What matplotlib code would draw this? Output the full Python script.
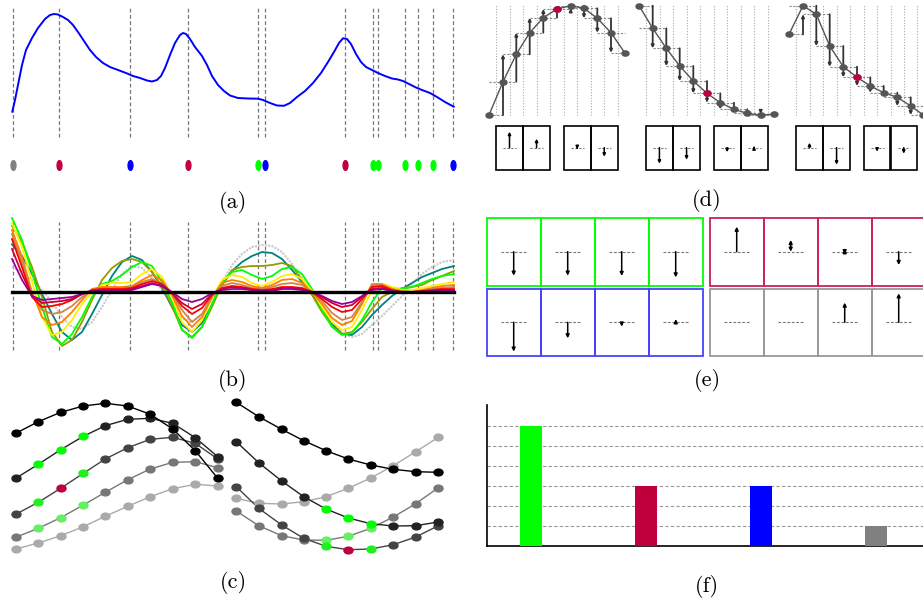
import matplotlib
matplotlib.use("Agg")
import matplotlib.pyplot as plt
from matplotlib.path import Path
from matplotlib.transforms import Affine2D
from matplotlib.patches import Rectangle

W, H = 923, 604

GREEN = "#00ff00"
CRIMSON = "#c0003c"
BLUE = "#0000ff"
GRAY = "#808080"

# ---------------- (a) signal + events ----------------
a_t = [12.3, 15, 18, 22, 26, 32, 38, 45, 50, 54, 58, 63, 68, 73, 78, 84, 90, 96,
       103, 110, 118, 126, 133, 140, 147, 152, 157, 161, 165, 170, 175, 180, 183,
       186, 190, 195, 202, 207, 212, 218, 224, 230, 238, 248, 258, 263, 270, 277,
       284, 290, 297, 305, 313, 321, 328, 334, 339, 343, 347, 351, 356, 361, 366,
       372, 378, 385, 392, 398, 403, 409, 416, 422, 430, 437, 445, 453.7]
a_s = [28.3, 40, 55, 75, 90, 102, 112, 121, 125, 126, 125.5, 123, 120, 115, 108,
       99, 90, 83, 77, 73, 70, 67, 64, 62, 59.5, 58.5, 60, 64, 72, 85, 97, 105,
       107, 106, 101, 93, 84, 75, 64, 55, 49, 44.5, 42, 41.5, 41.3, 40, 37, 34.5,
       34.2, 37, 43, 49, 57, 67, 78, 88, 97, 101.7, 101, 96, 86, 78, 73, 70, 67,
       64, 61.5, 60.5, 59, 56, 52.5, 50, 47, 43, 38, 33.3]

event_t = [12.8, 59, 129.8, 187.5, 258.2, 265, 344.8, 373.3, 377.7, 404.5,
           417.5, 433, 453]
event_colors = [GRAY, CRIMSON, BLUE, CRIMSON, GREEN, BLUE, CRIMSON, GREEN,
                GREEN, GREEN, GREEN, GREEN, BLUE]

# ---------------- (b) multi-scale responses ----------------
b_x = [12, 22, 32, 42, 52, 62, 72, 82, 92, 102, 112, 122, 132, 142, 152, 162,
       172, 182, 192, 202, 212, 222, 232, 242, 252, 262, 272, 282, 292, 302,
       312, 322, 332, 342, 352, 362, 372, 382, 392, 402, 412, 422, 432, 442, 454]
b_gray = [25, 20, 12, 2, -10, -25, -35, -37, -30, -15, 2, 18, 26, 24, 14, 2, -12,
          -26, -30, -22, -8, 10, 27, 38, 45, 47, 46, 40, 28, 14, 0, -15, -30, -41,
          -45, -42, -33, -24, -14, -4, 8, 18, 25, 30, 32]
b_teal = [47.7, 36, 18, -2, -22, -40, -48, -40, -22, -3, 16, 30, 36, 32, 20, 4,
          -15, -33, -40, -31, -13, 7, 21, 30, 36, 40, 39, 33, 22, 10, -2, -17, -32,
          -42, -43, -35, -23, -13, -4, 3, 9, 15, 19, 23, 26]
b_olive = [66, 50, 25, -5, -40, -54, -48, -30, -8, 12, 24, 31, 33, 30, 20, 6, -14,
           -38, -45, -35, -15, 8, 22, 25, 26, 26, 27, 29, 26, 12, -3, -20, -34, -42,
           -40, -30, -17, -5, 0, 4, 5, 7, 12, 16, 21]
b_lime = [74, 52, 20, -15, -45, -52, -42, -25, -5, 8, 11, 17, 25, 30, 26, 10, -10,
          -38, -46, -35, -12, 10, 20, 22, 17, 13, 16, 23, 25, 18, 3, -18, -35, -43,
          -41, -28, -10, 4, 4, 3, 5, 9, 13, 16, 18]
b_yellow = [69, 45, 10, -25, -43, -40, -28, -12, 0, 7, 9, 9, 10, 18, 23, 15, -5,
            -30, -40, -28, -6, 12, 17, 15, 9, 6, 10, 16, 18, 13, 1, -15, -30, -38,
            -35, -18, 2, 8, 5, 2, 2, 4, 6, 8, 10]
b_orange = [62, 35, 0, -25, -33, -30, -20, -8, 3, 5, 5, 5, 6, 12, 17, 12, -3, -24,
            -35, -25, -5, 9, 12, 10, 6, 4, 7, 12, 13, 9, 0, -12, -26, -33, -29, -12,
            8, 8, 3, 1, 0, 2, 4, 6, 7]
b_peru = [58, 30, -2, -18, -22, -20, -14, -5, 2, 4, 4, 4, 5, 10, 13, 9, -2, -18,
          -30, -22, -4, 6, 9, 7, 4, 3, 5, 8, 9, 7, 0, -9, -21, -28, -25, -10, 7, 7,
          2, 0, 0, 1, 3, 4, 5]
b_red = [53, 25, -5, -15, -14, -12, -8, -2, 2, 3, 3, 3, 4, 8, 11, 8, -1, -14, -22,
         -16, -3, 4, 6, 5, 3, 2, 3, 5, 5, 4, 0, -7, -15, -20, -18, -7, 5, 6, 2, 0,
         0, 1, 2, 3, 3]
b_crimson = [43, 18, -4, -11, -10, -9, -7, -2, 1, 2, 2, 2, 3, 6, 9, 6, -1, -11,
             -17, -12, -2, 3, 5, 4, 2, 1, 2, 4, 4, 3, 0, -5, -11, -15, -13, -5, 3,
             4, 1, 0, 0, 1, 1, 2, 2]
b_purple = [33, 12, -4, -8, -7, -6, -5, -2, 1, 1, 1, 1, 2, 5, 8, 6, 0, -7, -10, -7,
            -1, 2, 3, 3, 2, 1, 1, 3, 3, 2, 0, -4, -9, -12, -10, -4, 2, 3, 1, 0, 0,
            0, 1, 1, 1]

# ---------------- (c) trajectories ----------------
c_left_x = [15.7, 38.3, 60.7, 83.3, 105.3, 127.7, 150.3, 172.7, 195.3, 217.7]
c_left = [
    [126.7, 138.3, 147.7, 154, 156.7, 154, 145.7, 131, 109.3, 81.7],
    [81.7, 95.7, 110.3, 123.7, 134.3, 140.7, 141.7, 136.7, 122.3, 103.3],
    [45.7, 57.7, 71.7, 86.7, 101, 112.3, 120.7, 122.7, 116.7, 101],
    [22.7, 31.7, 42.3, 55, 67.7, 80.3, 91, 97.7, 98.3, 92.3],
    [11, 17, 24.3, 33.3, 43.7, 53.7, 63.3, 71.3, 75.7, 74],
]
c_right_x = [236.3, 258.7, 281.7, 303.7, 326, 348.3, 370.7, 393.3, 415.7, 438.3]
c_right = [
    [157.7, 143.3, 130.7, 119.3, 109.3, 101, 95, 90.7, 88.3, 87.7],
    [118.3, 97.3, 79, 63.3, 51, 42, 36.3, 34, 34.3, 38],
    [73.3, 51.7, 35, 21.7, 13.7, 10.3, 11, 15.3, 23, 34.3],
    [49, 34.3, 24.3, 20, 19.7, 23.7, 31.7, 43, 56.3, 72.3],
    [61.7, 56.7, 56, 58.3, 63.3, 71.7, 82, 94.3, 108.3, 122.7],
]
c_line_colors = ["#000000", "#222222", "#444444", "#777777", "#aaaaaa"]
LG = "#66ee66"
c_left_dots = [
    ["#000000"] * 10,
    ["#222222", GREEN, GREEN, GREEN] + ["#222222"] * 6,
    ["#444444", "#22ee22", CRIMSON, "#22ee22"] + ["#444444"] * 6,
    ["#777777", LG, LG, LG] + ["#777777"] * 6,
    ["#aaaaaa"] * 10,
]
c_right_dots = [
    ["#000000"] * 10,
    ["#222222"] * 4 + [GREEN, GREEN, GREEN] + ["#222222"] * 3,
    ["#444444"] * 4 + ["#22ee22", CRIMSON, "#22ee22"] + ["#444444"] * 3,
    ["#777777"] * 4 + [LG, LG, LG] + ["#777777"] * 3,
    ["#aaaaaa"] * 10,
]

# ---------------- (d) sampled curves + differences ----------------
d_x = [
    [489, 503, 516.3, 529.7, 543.3, 557, 570.7, 584, 597.3, 611, 624.7],
    [639, 652.7, 666.3, 679.7, 693.3, 707, 720.3, 734, 747.3, 760.7, 774.3],
    [789, 803, 816.3, 829.7, 843.3, 857, 870.3, 883.7, 897.3, 910.7, 923.3],
]
d_h = [
    [5, 38.3, 65.7, 87.3, 102.3, 111, 114.3, 111.7, 101.7, 87.3, 67.3],
    [114.3, 91.7, 71.7, 54, 39, 26.7, 17.3, 10.7, 6.7, 4.7, 6],
    [85.7, 114.3, 105.7, 74, 53.3, 42.7, 34, 27.3, 22.7, 14, 5],
]
d_red_idx = 5
d_box_arrows = [[16, 9, -1.5, -9], [-16, -12, -4.5, 1.5], [5, -17, -4, -6]]

# ---------------- (e) arrow boxes ----------------
e_green = [-24, -24, -24.3, -25.7]
e_red_start = [0, 0, -2.5, 0]
e_red_end = [25, 11.7, 2.5, -13.3]
e_red_both = [False, True, True, False]
e_blue = [-29.3, -16, -4.3, 3]
e_gray = [0, 0, 19.7, 29]

# ---------------- (f) counts ----------------
f_values = [6, 3, 3, 1]
f_colors = [GREEN, CRIMSON, BLUE, GRAY]

fig = plt.figure(figsize=(W / 100, H / 100), dpi=100)


def px_axes(x0, y0, x1, y1):
    ax = fig.add_axes([x0 / W, 1 - y1 / H, (x1 - x0) / W, (y1 - y0) / H])
    ax.set_axis_off()
    return ax


def arrow(ax, x, y0, y1, color="black", lw=1.1, both=False, ms=6):
    style = "<|-|>" if both else "-|>"
    ax.annotate("", xy=(x, y1), xytext=(x, y0),
                arrowprops=dict(arrowstyle=style, color=color, lw=lw,
                                mutation_scale=ms, shrinkA=0, shrinkB=0))


tall_ell = Path.unit_circle().transformed(Affine2D().scale(0.5, 1.0))
wide_ell = Path.unit_circle().transformed(Affine2D().scale(1.0, 0.75))
dash_v = dict(color="#777777", lw=0.9, ls=(0, (3, 2)))

# (a)
ax = px_axes(0, 0, 470, 185)
ax.set_xlim(0, 470)
ax.set_ylim(-45, 140)
for t in event_t:
    ax.plot([t, t], [3, 133], **dash_v, zorder=1)
ax.plot(a_t, a_s, color=BLUE, lw=1.4, zorder=2)
for t, c in zip(event_t, event_colors):
    ax.plot(t, -25, marker=tall_ell, ms=7, color=c, ls="none")

# (b)
ax = px_axes(0, 210, 470, 362)
ax.set_xlim(0, 470)
ax.set_ylim(-70, 82)
for t in event_t:
    ax.plot([t, t], [-58, 70], **dash_v, zorder=1)
ax.plot(b_x, b_gray, color="#c8c8c8", lw=1.5, ls=(0, (1, 0.6)), zorder=2)
b_series = [(b_teal, "#008080"), (b_olive, "#999900"), (b_lime, "#00ff00"),
            (b_yellow, "#ffee00"), (b_orange, "#ff8000"), (b_peru, "#cc8844"),
            (b_red, "#ff0000"), (b_crimson, "#cc0033"), (b_purple, "#990099")]
for vals, col in b_series:
    ax.plot(b_x, vals, color=col, lw=1.3, zorder=3)
ax.plot([12.3, 453.7], [0, 0], color="black", lw=2.4, zorder=4)

# (c)
ax = px_axes(0, 385, 470, 562)
ax.set_xlim(0, 470)
ax.set_ylim(-2, 175)
for xs, curves, dots in [(c_left_x, c_left, c_left_dots),
                         (c_right_x, c_right, c_right_dots)]:
    for k in range(len(curves) - 1, -1, -1):
        ax.plot(xs, curves[k], color=c_line_colors[k], lw=1.0, zorder=2)
        for x, y, col in zip(xs, curves[k], dots[k]):
            ax.plot(x, y, marker=wide_ell, ms=6.5, color=col, ls="none", zorder=3)

# (d)
ax = px_axes(475, 0, 923, 180)
ax.set_xlim(475, 923)
ax.set_ylim(-60, 120)
for xs, hs, box_arr in zip(d_x, d_h, d_box_arrows):
    n = len(xs)
    mids = [(xs[i] + xs[i + 1]) / 2 for i in range(n - 1)]
    for m in mids:
        ax.plot([m, m], [5, 115], color="#aaaaaa", lw=0.8, ls=(0, (1, 1.5)), zorder=1)
    for i in range(n):
        xa = xs[max(i - 1, 0)]
        xb = xs[min(i + 1, n - 1)]
        ax.plot([xa, xb], [hs[i], hs[i]], color="#888888", lw=0.8,
                ls=(0, (2, 1.5)), zorder=2)
    for i in range(1, n - 1):
        arrow(ax, xs[i], hs[i - 1], hs[i + 1], color="#333333", lw=1.3, ms=4)
    ax.plot(xs, hs, color="#555555", lw=1.0, zorder=3)
    ax.plot(xs, hs, marker=wide_ell, ms=5, color="#555555", ls="none", zorder=4)
    ax.plot(xs[d_red_idx], hs[d_red_idx], marker=wide_ell, ms=5, color=CRIMSON,
            ls="none", zorder=5)
    edges = [(mids[0], mids[2]), (mids[2], mids[4]), (mids[5], mids[7]),
             (mids[7], mids[9])]
    for (x0, x1), length in zip(edges, box_arr):
        ax.add_patch(Rectangle((x0, -50), x1 - x0, 44, fill=False,
                               ec="black", lw=1.2))
        ax.plot([x0 + 7, x1 - 7], [-27.7, -27.7], color="#777777", lw=0.8,
                ls=(0, (2, 1.5)))
        xc = (x0 + x1) / 2
        arrow(ax, xc, -27.7, -27.7 + length, lw=1.1, ms=4)

# (e)
ax = px_axes(475, 212, 923, 362)
ax.set_xlim(475, 923)
ax.set_ylim(362, 212)
groups = [
    (486.7, 218.3, 251.7, GREEN, [0] * 4, e_green, [False] * 4),
    (709.7, 218.3, 251.7, "#cc2255", e_red_start, e_red_end, e_red_both),
    (486.7, 289.0, 322.3, "#4444ff", [0] * 4, e_blue, [False] * 4),
    (709.7, 289.0, 322.3, "#999999", [0] * 4, e_gray, [False] * 4),
]
for gx, gy, base, col, starts, ends, both in groups:
    for j in range(4):
        x0 = gx + j * 54
        ax.add_patch(Rectangle((x0, gy), 54, 67.3, fill=False, ec=col, lw=1.3))
        xc = x0 + 27
        ax.plot([xc - 13, xc + 13], [base, base], color="#777777", lw=0.8,
                ls=(0, (2.5, 1.5)))
        if ends[j] != starts[j]:
            arrow(ax, xc, base - starts[j], base - ends[j], lw=1.1,
                  both=both[j], ms=5)

# (f)
axf = fig.add_axes([486.7 / W, 1 - 545.7 / H, (923 - 486.7) / W, (545.7 - 405) / H])
axf.bar(range(len(f_values)), f_values, width=0.19, color=f_colors, zorder=3)
axf.set_xlim(-0.383, 3.41)
axf.set_ylim(0, 7.03)
axf.set_xticks([])
axf.set_yticks(range(1, 7))
axf.set_yticklabels([])
axf.tick_params(length=0)
axf.yaxis.grid(True, color="#999999", lw=0.8, ls=(0, (3, 2)))
axf.set_axisbelow(True)
axf.spines["top"].set_visible(False)
axf.spines["right"].set_visible(False)
axf.spines["left"].set_linewidth(1.2)
axf.spines["bottom"].set_linewidth(1.2)

# panel labels
labels = [("(a)", 233, 203), ("(b)", 233, 380), ("(c)", 233, 583),
          ("(d)", 707, 200), ("(e)", 707, 381), ("(f)", 707, 586)]
for txt, x, y in labels:
    fig.text(x / W, 1 - y / H, txt, ha="center", va="center", fontsize=16,
             family="cmr10")

fig.savefig("out.png", dpi=100)
